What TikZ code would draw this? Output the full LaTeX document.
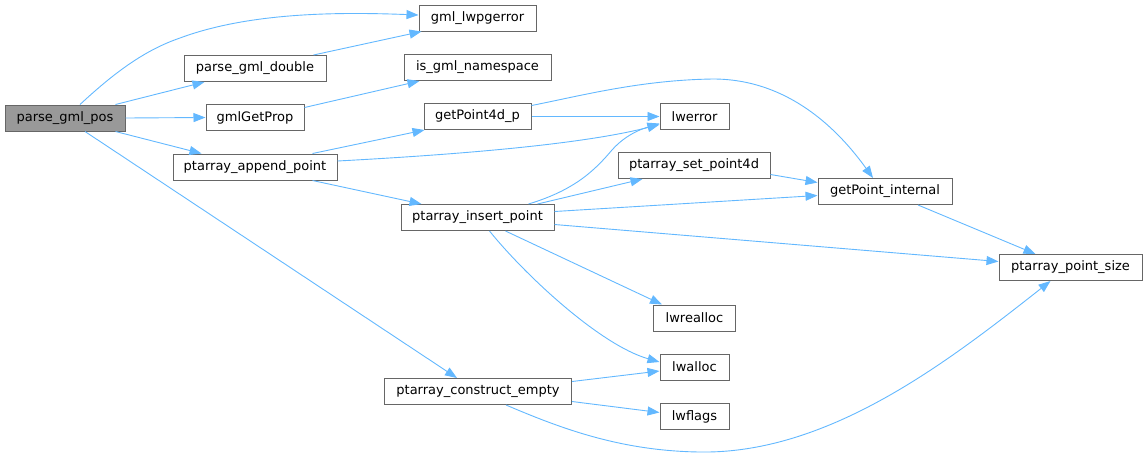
\documentclass[tikz,border=0pt]{standalone}
\usepackage{fontspec}
\setmainfont{DejaVu Sans}
\usetikzlibrary{arrows.meta,calc}
\definecolor{edgec}{HTML}{63B8FF}
\definecolor{boxc}{HTML}{666666}
\definecolor{rootc}{HTML}{999999}
\tikzset{
  fn/.style={draw=boxc, line width=1pt, fill=white, rectangle, minimum height=26pt, inner sep=0pt, font=\fontsize{13}{15}\selectfont},
  root/.style={fn, fill=rootc},
  link/.style={draw=edgec, line width=0.9pt, -{Triangle[length=12pt,width=9pt]}},
}
\begin{document}
\begin{tikzpicture}[x=1pt,y=-1pt]
\useasboundingbox (0,0) rectangle (1148,459);
\node[root, minimum width=120pt] (pos) at (65,118) {parse\_gml\_pos};
\node[fn, minimum width=142pt] (dbl) at (255,68.5) {parse\_gml\_double};
\node[fn, minimum width=98pt] (prop) at (255,117.5) {gmlGetProp};
\node[fn, minimum width=164pt] (app) at (255,167) {ptarray\_append\_point};
\node[fn, minimum width=117pt] (lwpg) at (477.5,18) {gml\_lwpgerror};
\node[fn, minimum width=147pt] (ns) at (477.5,67.5) {is\_gml\_namespace};
\node[fn, minimum width=107pt] (gp4) at (477.5,116.5) {getPoint4d\_p};
\node[fn, minimum width=153pt] (ins) at (477.5,217.5) {ptarray\_insert\_point};
\node[fn, minimum width=187pt] (cons) at (478,391.5) {ptarray\_construct\_empty};
\node[fn, minimum width=69pt] (lwerr) at (694.5,116.5) {lwerror};
\node[fn, minimum width=152pt] (set4) at (694,165.5) {ptarray\_set\_point4d};
\node[fn, minimum width=82pt] (realloc) at (694.5,318) {lwrealloc};
\node[fn, minimum width=69pt] (alloc) at (694.5,367) {lwalloc};
\node[fn, minimum width=69pt] (flags) at (694.5,416.5) {lwflags};
\node[fn, minimum width=134pt] (gpi) at (885,191.5) {getPoint\_internal};
\node[fn, minimum width=143pt] (size) at (1070.5,267.5) {ptarray\_point\_size};

% edges
\draw[link] ($(pos.north)+(15,0)$) .. controls (115,72) and (145,50) .. (180,38) .. controls (250,12) and (340,12) .. ($(lwpg.west)+(0,-3)$);
\draw[link] ($(pos.north east)+(-10,0)$) -- ($(dbl.south west)+(21,0)$);
\draw[link] (pos.east) -- (prop.west);
\draw[link] ($(pos.south east)+(-10,0)$) -- ($(app.north west)+(29,0)$);
\draw[link] ($(pos.south)+(20,0)$) -- ($(cons.north)+(-21,0)$);
\draw[link] ($(dbl.north east)+(-13,0)$) -- ($(lwpg.south west)+(3,0)$);
\draw[link] ($(prop.east)+(0,-10)$) -- ($(ns.south west)+(16,0)$);
\draw[link] ($(app.north east)+(-25,0)$) -- ($(gp4.south west)+(1,0)$);
\draw[link] ($(app.east)+(0,-6)$) .. controls (450,155) and (580,145) .. ($(lwerr.west)+(0,8)$);
\draw[link] ($(app.south east)+(-25,0)$) -- ($(ins.north west)+(21,0)$);
\draw[link] (gp4.east) -- (lwerr.west);
\draw[link] ($(gp4.east)+(0,-11)$) .. controls (580,96) and (640,80) .. (713,79) .. controls (790,79) and (840,132) .. ($(gpi.north)+(-12,0)$);
\draw[link] ($(ins.north east)+(-26,0)$) .. controls (575,190) and (595,170) .. (612,150) .. controls (627,133) and (645,128) .. ($(lwerr.west)+(0,7)$);
\draw[link] ($(ins.north east)+(-17,0)$) -- ($(set4.south west)+(25,0)$);
\draw[link] ($(ins.east)+(0,-6)$) -- ($(gpi.west)+(0,4)$);
\draw[link] ($(ins.east)+(0,7)$) -- ($(size.west)+(0,-6)$);
\draw[link] ($(ins.south)+(28,0)$) -- ($(realloc.north west)+(9,0)$);
\draw[link] ($(ins.south)+(12,0)$) .. controls (525,275) and (600,345) .. ($(alloc.west)+(0,-5)$);
\draw[link] ($(set4.east)+(0,9)$) -- ($(gpi.west)+(0,-9)$);
\draw[link] ($(gpi.south)+(33,0)$) -- ($(size.north west)+(37,0)$);
\draw[link] ($(cons.east)+(0,-10)$) -- ($(alloc.west)+(0,4)$);
\draw[link] ($(cons.east)+(0,10)$) -- ($(flags.west)+(0,-4)$);
\draw[link] ($(cons.south)+(28,0)$) .. controls (560,428) and (620,451) .. (700,452) .. controls (830,454) and (950,360) .. ($(size.south)+(-20,0)$);
\end{tikzpicture}
\end{document}
